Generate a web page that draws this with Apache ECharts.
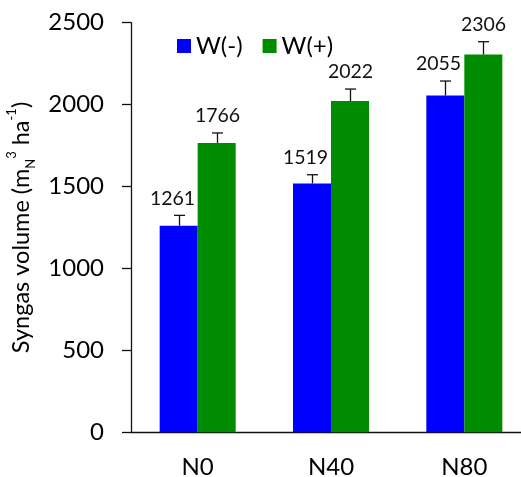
<!DOCTYPE html>
<html><head><meta charset="utf-8">
<script src="https://cdn.jsdelivr.net/npm/echarts@6/dist/echarts.min.js"></script>
<style>html,body{margin:0;padding:0;background:#fff}#c{width:521px;height:477px}</style>
</head><body><div id="c"></div>
<script>
const categories = ['N0', 'N40', 'N80'];
const seriesNames = ['W(-)', 'W(+)'];
const valuesWminus = [1261, 1519, 2055];
const valuesWplus = [1766, 2022, 2306];
const errWminus = [63, 53, 89];
const errWplus = [61, 73, 78];
const yTicks = [0, 500, 1000, 1500, 2000, 2500];

const FONT = 'Lato';
const colors = ['#0000ff', '#008c00'];
const BAR_PCT = 0.285;

function errSeries(vals, errs, side, labelShift) {
  return {
    type: 'custom',
    silent: true,
    z: 5,
    data: vals.map((v, i) => [i, v, errs[i]]),
    renderItem: function (params, api) {
      const idx = api.value(0), v = api.value(1), e = api.value(2);
      const band = api.size([1, 0])[0];
      const bw = band * BAR_PCT;
      const c = api.coord([idx, v]);
      const x = Math.round(c[0] + side * bw / 2) + 0.5;
      const top = api.coord([idx, v + e])[1];
      const y0 = c[1];
      const cap = 5.5;
      return {
        type: 'group',
        children: [
          { type: 'line', shape: { x1: x, y1: y0, x2: x, y2: top }, style: { stroke: '#111', lineWidth: 1.3 } },
          { type: 'line', shape: { x1: x - cap, y1: top, x2: x + cap, y2: top }, style: { stroke: '#111', lineWidth: 1.3 } },
          { type: 'text', x: x + labelShift, y: top - 7, style: { text: String(v), fill: '#111', font: '19.5px ' + FONT, align: 'center', verticalAlign: 'bottom' } }
        ]
      };
    }
  };
}

const chart = echarts.init(document.getElementById('c'));
chart.setOption({
  animation: false,
  backgroundColor: '#fff',
  textStyle: { fontFamily: FONT },
  grid: { left: 131, width: 400, top: 22.7, height: 409.6, containLabel: false, outerBoundsMode: 'none' },
  legend: {
    data: seriesNames,
    left: 172, top: 29,
    itemWidth: 14, itemHeight: 14, itemGap: 20,
    icon: 'rect',
    textStyle: { fontFamily: FONT, fontSize: 24, color: '#000' }
  },
  xAxis: {
    type: 'category',
    data: categories,
    axisLine: { lineStyle: { color: '#111', width: 1.3 } },
    axisTick: { show: false },
    axisLabel: { fontFamily: FONT, fontSize: 24, color: '#000', margin: 23 }
  },
  yAxis: {
    type: 'value',
    min: 0, max: 2500, interval: 500,
    splitLine: { show: false },
    axisLine: { show: true, lineStyle: { color: '#111', width: 1.3 } },
    axisTick: { show: true, length: 9, lineStyle: { color: '#111', width: 1.3 } },
    axisLabel: { fontFamily: FONT, fontSize: 24, color: '#000', margin: 27,
      formatter: v => yTicks.includes(v) ? String(v) : '' },
    name: '{m|Syngas volume (m}{s|N}{p|3}{m| ha}{p|-1}{m|)}',
    nameLocation: 'middle',
    nameRotate: 90,
    nameGap: 91,
    nameTextStyle: {
      rich: {
        m: { fontFamily: FONT, fontSize: 23.5, color: '#000', lineHeight: 32 },
        s: { fontFamily: FONT, fontSize: 13, color: '#000', lineHeight: 32, verticalAlign: 'bottom', padding: [9, 0, 0, 0] },
        p: { fontFamily: FONT, fontSize: 13, color: '#000', lineHeight: 32, verticalAlign: 'top', padding: [0, 0, 11, 0] }
      }
    }
  },
  series: [
    { name: seriesNames[0], type: 'bar', data: valuesWminus, barWidth: (BAR_PCT * 100) + '%', barGap: '0%', itemStyle: { color: colors[0] } },
    { name: seriesNames[1], type: 'bar', data: valuesWplus, barWidth: (BAR_PCT * 100) + '%', barGap: '0%', itemStyle: { color: colors[1] } },
    errSeries(valuesWminus, errWminus, -1, -7),
    errSeries(valuesWplus, errWplus, 1, 0)
  ]
});
</script></body></html>
